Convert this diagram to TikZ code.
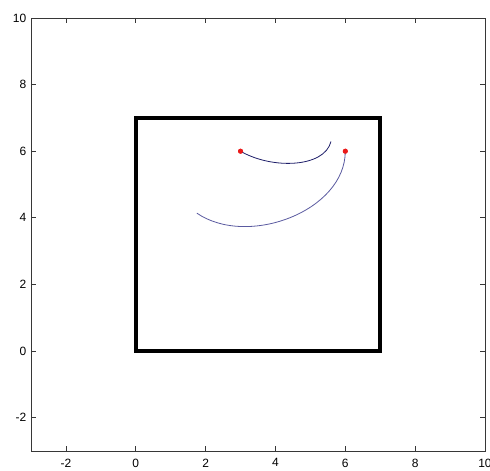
\documentclass[tikz,border=0pt]{standalone}
\usepackage{fontspec}
\setmainfont{Liberation Sans}
\usetikzlibrary{calc}
\usepackage{xcolor}
\definecolor{mlnavy}{RGB}{30,30,105}
\definecolor{mlblue}{RGB}{90,90,160}
\definecolor{mlred}{RGB}{235,25,25}
\definecolor{mlaxis}{RGB}{55,55,55}
\tikzset{
    frame/.style={
        draw=mlaxis,line width=0.9pt
    },
    tickmark/.style={
        draw=mlaxis,line width=0.8pt
    },
    ticklabel/.style={
        font=\fontsize{12}{14}\selectfont,text=black,inner sep=0pt
    },
    wall/.style={
        draw=black,line width=3.6pt,line join=miter
    },
    track/.style={
        draw=#1,line width=0.8pt
    },
    track/.default=mlnavy,
    startdot/.style={
        circle,fill=mlred,draw=none,minimum size=5pt,inner sep=0pt
    }
}

\begin{document}
\begin{tikzpicture}[x=1pt,y=1pt]

\useasboundingbox (0,0) rectangle (490,471);
\fill[white] (0,0) rectangle (490,471);

\begin{scope}[x=34.92pt,y=33.31pt,shift={(135.77pt,119.93pt)}]

% axes box and ticks
\draw[frame] (-3,-3) rectangle (10,10);
\foreach \t in {-2,0,...,8}{
    \draw[tickmark] (\t,-3) -- ++(0,5pt);
    \draw[tickmark] (\t,10) -- ++(0,-5pt);
    \draw[tickmark] (-3,\t) -- ++(5pt,0);
    \draw[tickmark] (10,\t) -- ++(-5pt,0);
}
\foreach \t in {-2,0,...,10}{
    \node[ticklabel,anchor=north] (xl\t) at ($(\t,-3)+(0,-7.5pt)$) {\t};
    \node[ticklabel,anchor=east] (yl\t) at ($(-3,\t)+(-4.5pt,0)$) {\t};
}

% room
\draw[wall] (0,0) rectangle (7,7);

% paths
\node[startdot] (s1) at (3,6) {};
\node[startdot] (s2) at (6,6) {};
\coordinate (e1) at (5.59,6.29);
\coordinate (e2) at (1.75,4.14);

\draw[track=mlnavy] (s1.center) .. controls (3.9,5.45) and (5.4,5.5) .. (e1);
\draw[track=mlblue] (s2.center) .. controls (6,4.2) and (3.2,3.1) .. (e2);

\node[startdot] at (s1) {};
\node[startdot] at (s2) {};

\end{scope}

\end{tikzpicture}
\end{document}
